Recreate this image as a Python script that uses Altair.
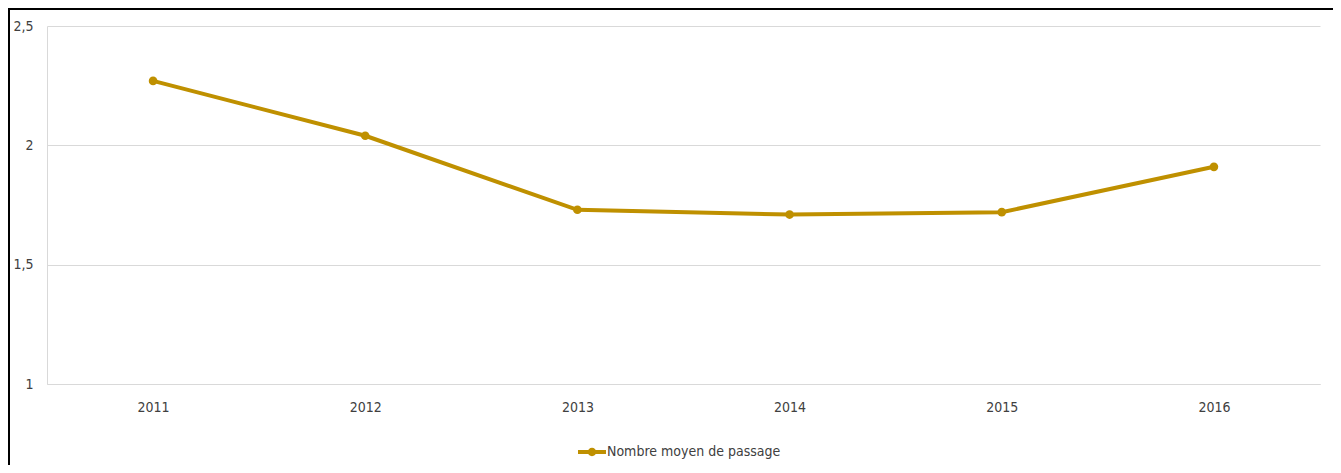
import altair as alt
import pandas as pd

years = ["2011", "2012", "2013", "2014", "2015", "2016"]
values = [2.27, 2.04, 1.73, 1.71, 1.72, 1.91]
series_name = "Nombre moyen de passage"
y_ticks = [1, 1.5, 2, 2.5]

df = pd.DataFrame({"annee": years, "valeur": values, "serie": [series_name] * len(years)})

FONT = "Liberation Sans Narrow, DejaVu Sans Condensed, sans-serif"
GOLD = "#BF9000"

legend_symbol = ("M-1,-0.14L1,-0.14L1,0.14L-1,0.14Z "
                 "M-0.3,0a0.3,0.3 0 1,1 0.6,0a0.3,0.3 0 1,1 -0.6,0Z")

line = alt.Chart(df).mark_line(
    strokeWidth=4, color=GOLD,
    point=alt.OverlayMarkDef(filled=True, size=75, color=GOLD)
).encode(
    x=alt.X("annee:N", title=None, sort=years,
            scale=alt.Scale(paddingInner=0, paddingOuter=0.5),
            axis=alt.Axis(labelAngle=0, ticks=False, domain=True, domainColor="#D9D9D9",
                          domainWidth=1, labelPadding=16, grid=False)),
    y=alt.Y("valeur:Q", title=None,
            scale=alt.Scale(domain=[1, 2.5], nice=False, zero=False),
            axis=alt.Axis(values=y_ticks, ticks=False, domain=True, domainColor="#D9D9D9",
                          labelPadding=14, gridColor="#D9D9D9", gridWidth=1,
                          labelExpr="replace(format(datum.value, ''), '.', ',')")),
    color=alt.Color("serie:N", scale=alt.Scale(range=[GOLD]),
                    legend=alt.Legend(title=None, orient="none", legendX=531, legendY=412,
                                      symbolType=legend_symbol, symbolSize=784,
                                      symbolStrokeWidth=0, symbolFillColor=GOLD,
                                      labelOffset=1, labelLimit=400))
)

frame = alt.Chart(df).mark_rect(fill=None, stroke="#000000", strokeWidth=2, clip=False).encode(
    x=alt.value(-38), x2=alt.value(1288), y=alt.value(-17), y2=alt.value(470)
).transform_filter("datum.annee == '2011'")

chart = alt.layer(line, frame).properties(
    width=1273, height=358,
    autosize=alt.AutoSizeParams(type="none"),
    padding={"left": 39, "top": 18, "right": 13, "bottom": 81},
).configure_view(stroke=None).configure_axis(
    labelFont=FONT, labelFontSize=14, labelColor="#404040"
).configure_legend(
    labelFont=FONT, labelFontSize=14, labelColor="#404040"
)

chart.save("out.html", embed_options={"renderer": "svg", "actions": False})
